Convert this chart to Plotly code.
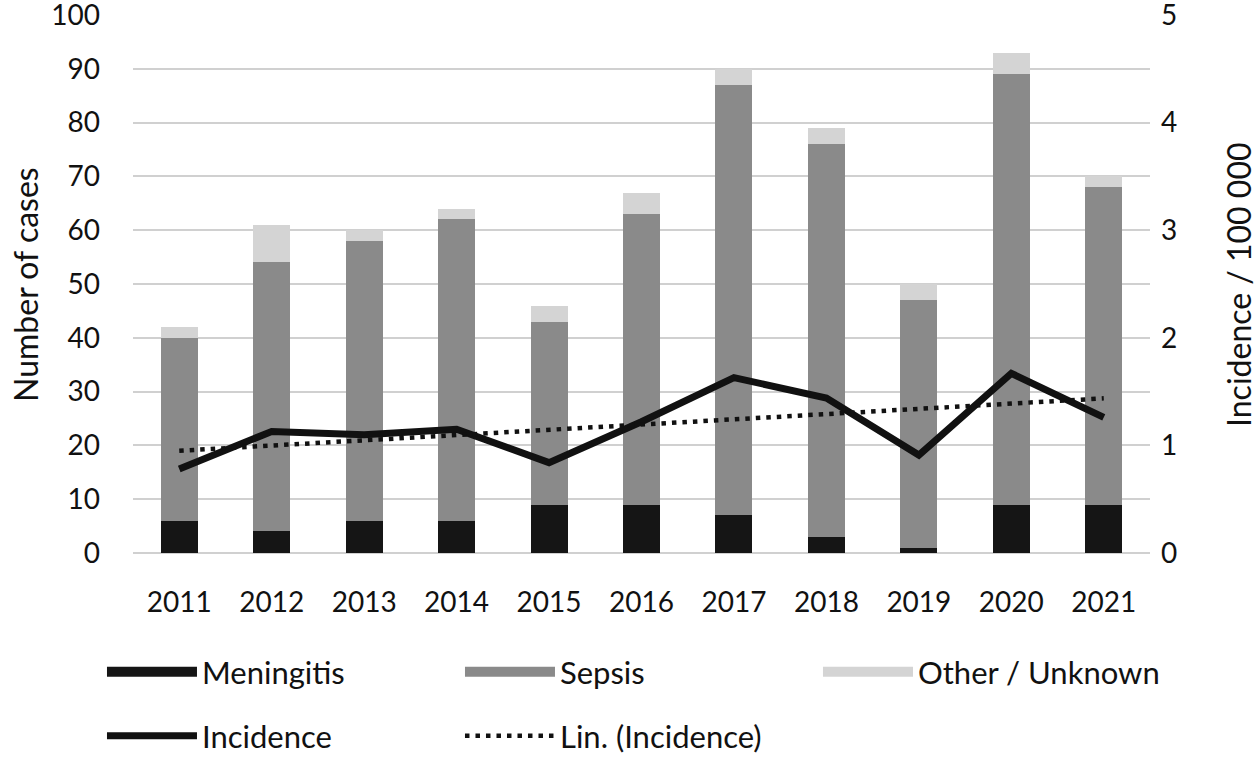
import numpy as np
import plotly.graph_objects as go

years = ["2011", "2012", "2013", "2014", "2015", "2016", "2017", "2018", "2019", "2020", "2021"]
meningitis = [6, 4, 6, 6, 9, 9, 7, 3, 1, 9, 9]
sepsis = [34, 50, 52, 56, 34, 54, 80, 73, 46, 80, 59]
other = [2, 7, 2, 2, 3, 4, 3, 3, 3, 4, 2]
incidence = [0.78, 1.13, 1.10, 1.15, 0.84, 1.22, 1.63, 1.44, 0.91, 1.67, 1.26]

# linear trend of the incidence (Excel "Lin." trendline)
xi = np.arange(len(years))
slope, intercept = np.polyfit(xi, incidence, 1)
trend = list(slope * xi + intercept)

C_MEN = "#151515"
C_SEP = "#8a8a8a"
C_OTH = "#d4d4d4"
FONT = "Lato, 'Open Sans', sans-serif"
FS = 28
FT = 32
FL = 31

fig = go.Figure()
for name, vals, col in [("Meningitis", meningitis, C_MEN), ("Sepsis", sepsis, C_SEP),
                        ("Other / Unknown", other, C_OTH)]:
    fig.add_trace(go.Bar(x=years, y=vals, name=name, marker=dict(color=col, line=dict(width=0)),
                         showlegend=False))
    # legend swatch
    fig.add_trace(go.Scatter(x=[None], y=[None], mode="lines", name=name,
                             line=dict(color=col, width=18), legend="legend"))

fig.add_trace(go.Scatter(x=years, y=incidence, name="Incidence", mode="lines", yaxis="y2",
                         line=dict(color="#111111", width=7), legend="legend2"))
fig.add_trace(go.Scatter(x=years, y=trend, name="Lin. (Incidence)", mode="lines", yaxis="y2",
                         line=dict(color="#111111", width=4.5, dash="4.5px,6px"), legend="legend2"))

LEG = dict(orientation="h", x=-0.0305, xanchor="left", yanchor="top", traceorder="normal",
           entrywidth=253, entrywidthmode="pixels", itemwidth=90,
           font=dict(size=FL), bgcolor="rgba(0,0,0,0)")

fig.update_layout(
    width=1258, height=759,
    barmode="stack", bargap=0.6,
    plot_bgcolor="white", paper_bgcolor="white",
    font=dict(family=FONT, size=FS, color="#111111"),
    margin=dict(l=133, r=108, t=15, b=206, autoexpand=False),
    xaxis=dict(showgrid=False, showline=False, ticks="", tickfont=dict(size=FS),
               ticklabelstandoff=30),
    yaxis=dict(range=[0, 100], dtick=10, showgrid=True, gridcolor="#d0d0d0", gridwidth=1.5,
               zeroline=True, zerolinecolor="#d0d0d0", zerolinewidth=1.5, showline=False,
               tickfont=dict(size=FS), ticklabelstandoff=32, ticklabeloverflow="allow"),
    yaxis2=dict(range=[0, 5], dtick=1, overlaying="y", side="right", showgrid=False,
                zeroline=False, showline=False,
                tickfont=dict(size=FS), ticklabelstandoff=10, ticklabeloverflow="allow"),
    legend=dict(LEG, y=-0.171),
    legend2=dict(LEG, y=-0.29),
    annotations=[
        dict(text="Number of cases", textangle=-90, xref="paper", yref="paper",
             x=-0.1062, y=0.5, xanchor="center", yanchor="middle", showarrow=False,
             font=dict(size=FT)),
        dict(text="Incidence / 100 000", textangle=-90, xref="paper", yref="paper",
             x=1.0865, y=0.5, xanchor="center", yanchor="middle", showarrow=False,
             font=dict(size=FT)),
    ],
)

fig.write_html("out.html", config={"displayModeBar": False},
               post_script="document.body.style.margin='0';")
